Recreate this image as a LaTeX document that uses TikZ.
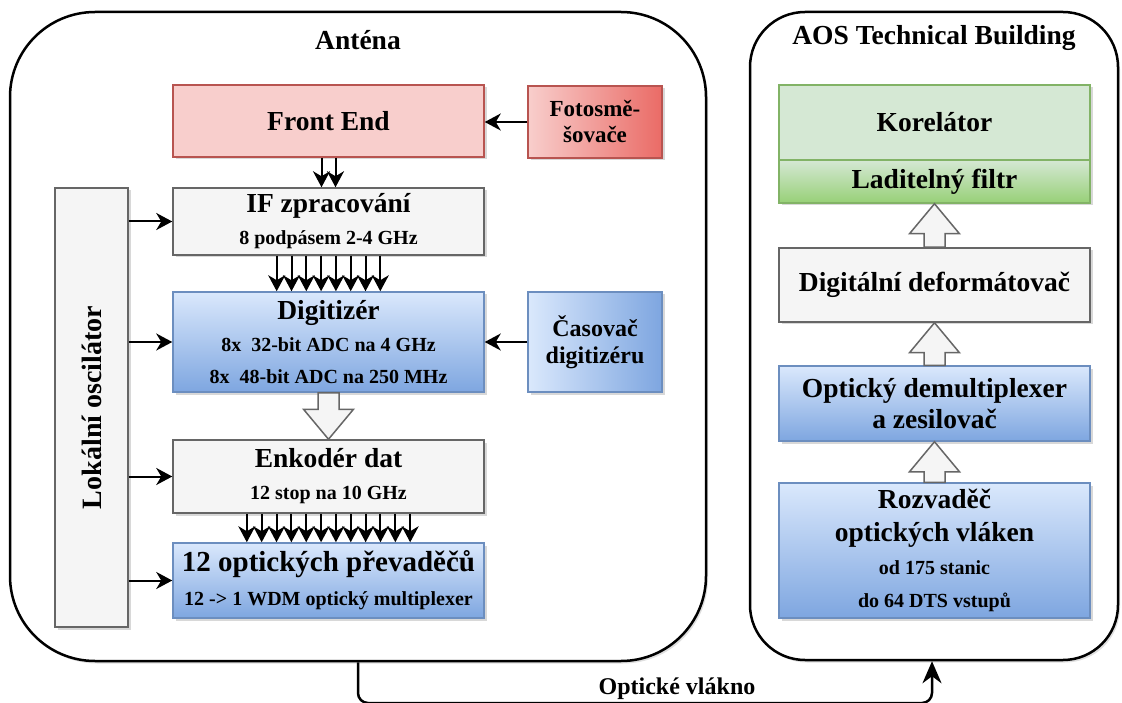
\documentclass[tikz,border=0pt]{standalone}
\usepackage{fontspec}
\setmainfont{Liberation Serif}
\usepackage{graphicx}
\usetikzlibrary{arrows.meta,calc,shadows,positioning}

\definecolor{grayfill}{HTML}{F5F5F5}
\definecolor{grayline}{HTML}{666666}
\definecolor{bluetop}{HTML}{DAE8FC}
\definecolor{bluebot}{HTML}{7EA6E0}
\definecolor{blueline}{HTML}{6C8EBF}
\definecolor{redfill}{HTML}{F8CECC}
\definecolor{reddark}{HTML}{EA6B66}
\definecolor{redline}{HTML}{B85450}
\definecolor{greenfill}{HTML}{D5E8D4}
\definecolor{greenbot}{HTML}{97D077}
\definecolor{greenline}{HTML}{82B366}

\newcommand{\ttlfont}{\fontsize{27.5}{32}\selectfont\bfseries}
\newcommand{\subfont}{\fontsize{20}{32}\selectfont\bfseries}

% hollow block arrow from #1 to #2
\newcommand{\fatarrow}[2]{%
  \coordinate (fa) at ($(#2)!30pt!(#1)$);
  \draw[hollow] ($(#1)+(-10.5,0)$) -- ($(fa)+(-10.5,0)$) -- ($(fa)+(-25,0)$) -- (#2)
    -- ($(fa)+(25,0)$) -- ($(fa)+(10.5,0)$) -- ($(#1)+(10.5,0)$) -- cycle;}

\begin{document}
\begin{tikzpicture}[x=1pt,y=-1pt,
  shadowed/.style={drop shadow={shadow xshift=2.5pt,shadow yshift=-2.5pt,opacity=.3}},
  box/.style={draw, line width=1.5pt, minimum width=311pt, inner sep=0pt, align=center, font=\ttlfont, shadowed},
  graybox/.style={box, draw=grayline, fill=grayfill},
  bluebox/.style={box, draw=blueline, top color=bluetop, bottom color=bluebot},
  blueside/.style={box, draw=blueline, left color=bluetop, right color=bluebot},
  redbox/.style={box, draw=redline, fill=redfill},
  redside/.style={box, draw=redline, left color=redfill, right color=reddark},
  greenbox/.style={box, draw=greenline, fill=greenfill},
  greenshade/.style={box, draw=greenline, top color=greenfill, bottom color=greenbot},
  outer/.style={draw, line width=2.5pt, fill=white, inner sep=0pt, drop shadow={shadow xshift=2pt,shadow yshift=-2.5pt,opacity=.25}},
  arr/.style={line width=2pt, -{Stealth[length=16pt,width=17pt,inset=5pt]}},
  hollow/.style={draw=grayline, fill=grayfill, line width=1.5pt},
  fiber/.style={line width=2.5pt, rounded corners=10pt, -{Stealth[length=22pt,width=19pt,inset=7pt]}}]

\useasboundingbox (0,0) rectangle (1122,703);

% the two buildings
\node[outer, rounded corners=85pt, minimum width=696pt, minimum height=649pt] (ant) at (358,336.5) {};
\node[outer, rounded corners=55pt, minimum width=368pt, minimum height=648pt] (aos) at (934,336) {};
\node[font=\ttlfont] (antt) at (358,40) {Anténa};
\node[font=\ttlfont] (aost) at (934,38) {AOS Technical Building};

% antenna
\node[redbox, minimum height=72pt] (fe) at (328.5,121) {Front End};
\node[redside, minimum width=134pt, minimum height=72pt, font=\fontsize{23}{26}\selectfont\bfseries] (foto) at (595,122) {Fotosmě-\\šovače};
\node[graybox, minimum height=67pt] (ifz) at (328.5,221.5) {IF zpracování\\\subfont 8 podpásem 2-4 GHz};
\node[bluebox, minimum height=100pt] (dig) at (328.5,342) {Digitizér\\\subfont 8x\ \ 32-bit ADC na 4 GHz\\\subfont 8x\ \ 48-bit ADC na 250 MHz};
\node[blueside, minimum width=134pt, minimum height=100pt, font=\fontsize{24}{27}\selectfont\bfseries] (cas) at (595,342) {Časovač\\digitizéru};
\node[graybox, minimum height=73pt] (enc) at (328.5,476.5) {Enkodér dat\\\subfont 12 stop na 10 GHz};
\node[bluebox, minimum height=75pt, font=\fontsize{29}{34}\selectfont\bfseries] (opt) at (328.5,580.5) {12 optických převaděčů\\\subfont 12 -> 1 WDM optický multiplexer};
\node[graybox, minimum width=73pt, minimum height=439pt, font=\fontsize{28}{32}\selectfont\bfseries] (lo) at (91.5,407.5) {\rotatebox{90}{Lokální oscilátor}};

\draw[arr] (foto.west) -- (fe.east |- foto.west);
\draw[arr] (cas.west) -- (dig.east |- cas.west);
\foreach \n in {ifz,dig,enc,opt}
  \draw[arr] (lo.east |- \n.west) -- (\n.west);
\foreach \dx in {-7,7}
  \draw[arr] ($(fe.south)+(\dx,0)$) -- ($(ifz.north)+(\dx,0)$);
\foreach \i in {0,...,7}
  \draw[arr] ($(ifz.south)+({(\i-3.5)*14.8},0)$) -- ($(dig.north)+({(\i-3.5)*14.8},0)$);
\foreach \i in {0,...,11}
  \draw[arr] ($(enc.south)+({(\i-5.5)*14.85},0)$) -- ($(opt.north)+({(\i-5.5)*14.85},0)$);
\fatarrow{dig.south}{enc.north}

% technical building
\node[greenbox, minimum height=75pt] (kor) at (934.5,122.5) {Korelátor};
\node[greenshade, minimum height=43pt] (lad) at (934.5,181.5) {Laditelný filtr};
\node[graybox, minimum height=74pt] (ddf) at (934.5,285) {Digitální deformátovač};
\node[bluebox, minimum height=75pt, font=\fontsize{27.5}{31}\selectfont\bfseries] (dem) at (934.5,403.5) {Optický demultiplexer\\a zesilovač};
\node[bluebox, minimum height=135pt, font=\fontsize{27.5}{33}\selectfont\bfseries] (roz) at (934.5,550.5) {Rozvaděč\\optických vláken\\\fontsize{20}{34}\selectfont od 175 stanic\\\fontsize{20}{34}\selectfont do 64 DTS vstupů};

\fatarrow{ddf.north}{lad.south}
\fatarrow{dem.north}{ddf.south}
\fatarrow{roz.north}{dem.south}

% fibre between the buildings
\coordinate (fl) at (358,703);
\coordinate (fr) at (932,703);
\draw[fiber] (ant.south -| fl) -- (fl) -- (fr) -- (aos.south -| fr);
\node[font=\fontsize{24}{28}\selectfont\bfseries] (fib) at (677,689) {Optické vlákno};

\end{tikzpicture}
\end{document}
